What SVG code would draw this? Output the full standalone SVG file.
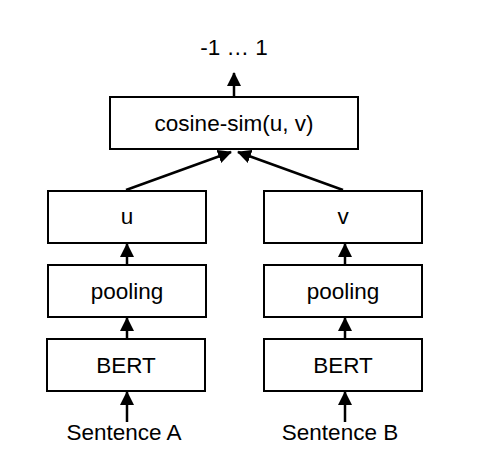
<svg xmlns="http://www.w3.org/2000/svg" width="497" height="471" viewBox="0 0 497 471">
<style>
.box{fill:#fff;stroke:#000;stroke-width:2}
.t{font-family:"Liberation Sans",Arial,sans-serif;font-size:22.5px;fill:#000;text-anchor:middle}
.c{stroke:#000;stroke-width:2.5;fill:none}
</style>
<defs>
<marker id="ah" markerUnits="userSpaceOnUse" markerWidth="14" markerHeight="14" viewBox="0 0 14 14" refX="13" refY="7" orient="auto">
<path d="M0,0 L14,7 L0,14 Z" fill="#000"/>
</marker>
</defs>
<rect width="497" height="471" fill="#fff"/>
<g id="connectors">
<line class="c" x1="234" y1="96" x2="234" y2="73" marker-end="url(#ah)"/>
<line class="c" x1="126" y1="190" x2="231" y2="152" marker-end="url(#ah)"/>
<line class="c" x1="343" y1="190" x2="238" y2="152" marker-end="url(#ah)"/>
<line class="c" x1="127" y1="264" x2="127" y2="244" marker-end="url(#ah)"/>
<line class="c" x1="127" y1="338" x2="127" y2="318" marker-end="url(#ah)"/>
<line class="c" x1="127" y1="422" x2="127" y2="392" marker-end="url(#ah)"/>
<line class="c" x1="345" y1="264" x2="345" y2="244" marker-end="url(#ah)"/>
<line class="c" x1="345" y1="338" x2="345" y2="318" marker-end="url(#ah)"/>
<line class="c" x1="345" y1="422" x2="345" y2="392" marker-end="url(#ah)"/>
</g>
<g id="output"><text class="t" x="234" y="55">-1 … 1</text></g>
<g id="cosine"><rect class="box" x="110" y="97" width="248" height="52"/><text class="t" x="234" y="131">cosine-sim(u, v)</text></g>
<g id="u"><rect class="box" x="48" y="191" width="158" height="52"/><text class="t" x="127" y="224">u</text></g>
<g id="poolA"><rect class="box" x="48" y="265" width="158" height="52"/><text class="t" x="127" y="299">pooling</text></g>
<g id="bertA"><rect class="box" x="47" y="339" width="158" height="52"/><text class="t" x="126" y="373">BERT</text></g>
<g id="sentA"><text class="t" x="124" y="440">Sentence A</text></g>
<g id="v"><rect class="box" x="264" y="191" width="158" height="52"/><text class="t" x="343" y="224">v</text></g>
<g id="poolB"><rect class="box" x="264" y="265" width="158" height="52"/><text class="t" x="343" y="299">pooling</text></g>
<g id="bertB"><rect class="box" x="264" y="339" width="158" height="52"/><text class="t" x="343" y="373">BERT</text></g>
<g id="sentB"><text class="t" x="340" y="440">Sentence B</text></g>
</svg>
